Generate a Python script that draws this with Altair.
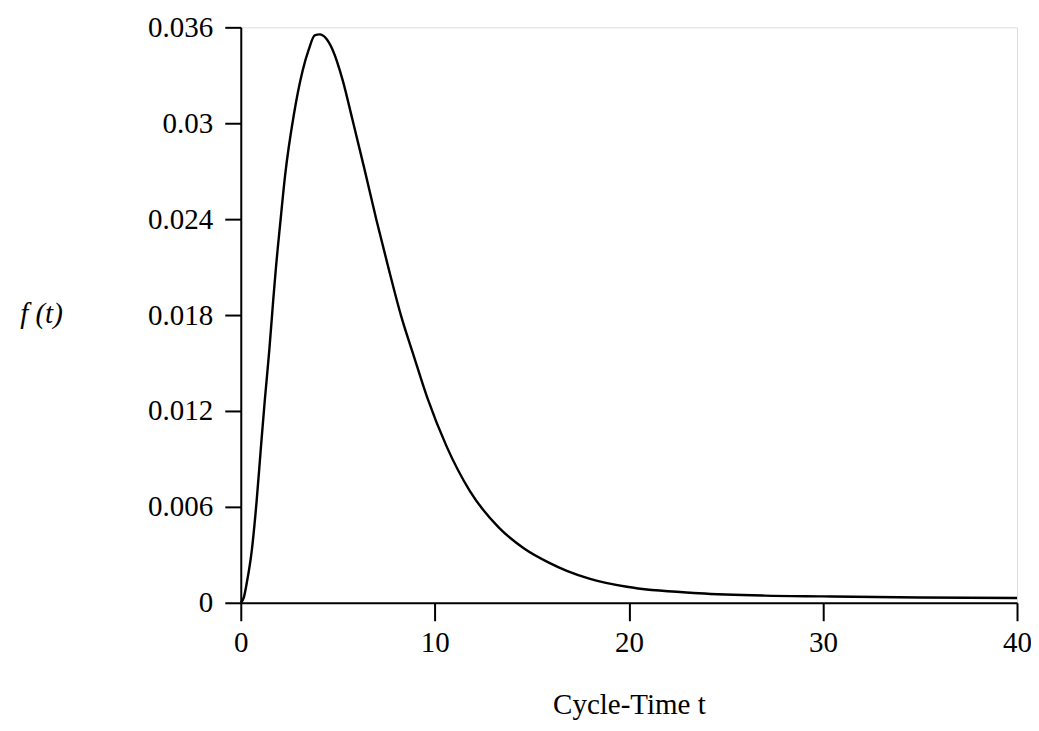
import altair as alt
import pandas as pd

# Cycle-time density f(t)
t_vals = [0, 0.15, 0.31, 0.57, 0.82, 1.03, 1.24, 1.47, 1.67, 1.80, 2.03, 2.29, 2.73,
          3.19, 3.5, 3.81, 4.07, 4.4, 4.73, 5.25, 5.76, 6.38, 7.0, 7.6, 8.25, 8.9,
          9.62, 10.6, 11.8, 13.3, 14.6, 15.9, 16.8, 18.0, 19.9, 23.6, 27, 30, 35, 40]
f_vals = [0, 0.0003, 0.00125, 0.0033, 0.0064, 0.0096, 0.0127, 0.0158, 0.0189, 0.0208,
          0.0237, 0.0268, 0.0305, 0.0333, 0.0346, 0.0355, 0.03556, 0.0353, 0.0346,
          0.0327, 0.0302, 0.0271, 0.0239, 0.0210, 0.0180, 0.0155, 0.0128, 0.0098,
          0.0070, 0.0047, 0.0034, 0.0025, 0.0020, 0.0015, 0.0010, 0.0006, 0.00045,
          0.0004, 0.00033, 0.0003]

x_ticks = [0, 10, 20, 30, 40]
y_ticks = [0, 0.006, 0.012, 0.018, 0.024, 0.03, 0.036]

df = pd.DataFrame({"t": t_vals, "f": f_vals})

FONT = "Liberation Serif"

chart = (
    alt.Chart(df)
    .mark_line(color="black", strokeWidth=2.4, interpolate="monotone")
    .encode(
        x=alt.X(
            "t:Q",
            scale=alt.Scale(domain=[0, 40], nice=False, zero=True),
            axis=alt.Axis(
                values=x_ticks,
                title="Cycle-Time t",
                titleFont=FONT,
                titleFontSize=29,
                titleFontWeight="normal",
                titleColor="black",
                titleBaseline="alphabetic",
                titleY=111,
                labelFont=FONT,
                labelFontSize=29,
                labelColor="black",
                labelPadding=8,
                tickSize=18,
                tickWidth=2,
                tickColor="black",
                domainColor="black",
                domainWidth=2,
                grid=False,
                labelFlush=False,
            ),
        ),
        y=alt.Y(
            "f:Q",
            scale=alt.Scale(domain=[0, 0.036], nice=False, zero=True),
            axis=alt.Axis(
                values=y_ticks,
                format="~g",
                title="f (t)",
                titleFont=FONT,
                titleFontSize=29,
                titleFontStyle="italic",
                titleFontWeight="normal",
                titleColor="black",
                titleAngle=0,
                titleAlign="center",
                titleBaseline="middle",
                titleX=-200,
                titleY=286,
                labelFont=FONT,
                labelFontSize=29,
                labelColor="black",
                labelPadding=12,
                tickSize=16,
                tickWidth=2,
                tickColor="black",
                domainColor="black",
                domainWidth=2,
                grid=False,
                labelFlush=False,
            ),
        ),
    )
    .properties(
        width=777,
        height=576,
        autosize="none",
        padding={"left": 233, "top": 19, "right": 14, "bottom": 122},
    )
    .configure_view(stroke=None)
    .configure(background="white")
)

chart.save("out.html", embed_options={"renderer": "svg", "actions": False})
